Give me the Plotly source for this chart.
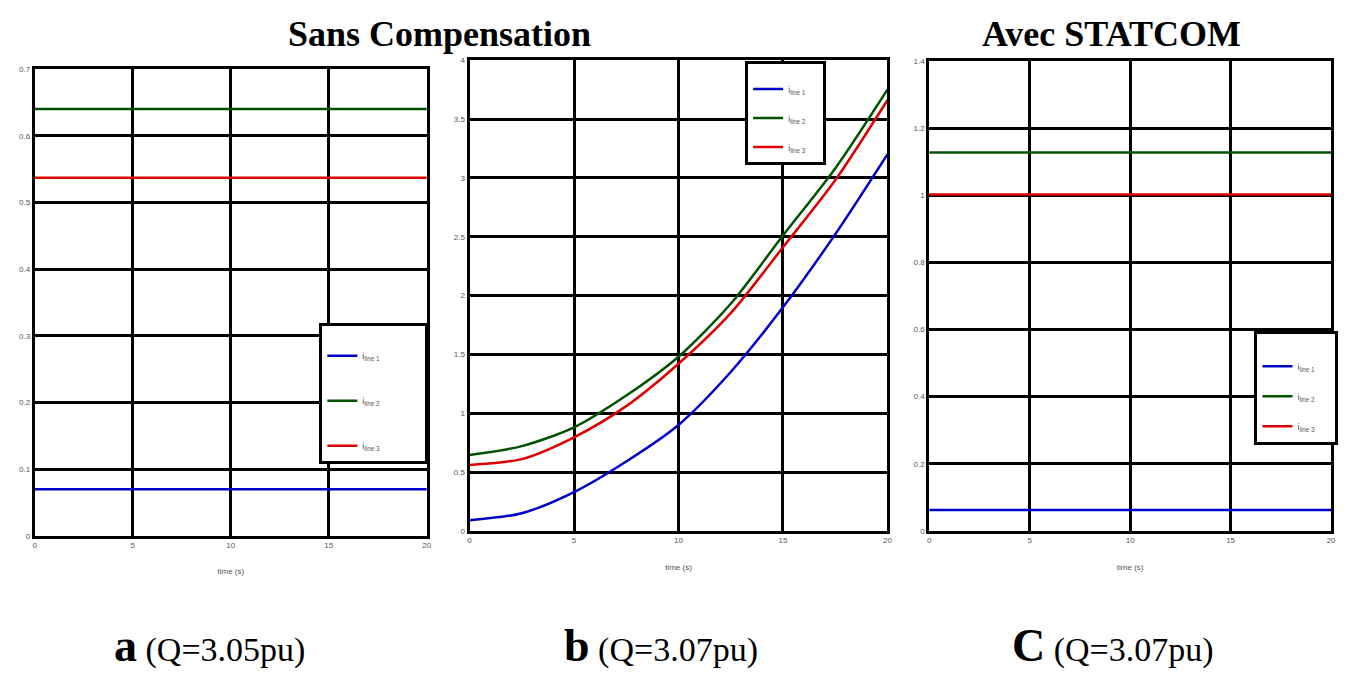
import plotly.graph_objects as go

# ---------------- data ----------------
time_flat = [0, 20]
a_line1 = [0.070, 0.070]
a_line2 = [0.640, 0.640]
a_line3 = [0.537, 0.537]

time_b = [0, 2.5, 5, 7.5, 10, 12.5, 15, 17.5, 20]
b_line1 = [0.09, 0.15, 0.33, 0.59, 0.90, 1.35, 1.90, 2.52, 3.20]
b_line2 = [0.645, 0.72, 0.88, 1.15, 1.48, 1.93, 2.51, 3.08, 3.75]
b_line3 = [0.56, 0.61, 0.795, 1.06, 1.42, 1.85, 2.41, 2.98, 3.66]

c_line1 = [0.062, 0.062]
c_line2 = [1.128, 1.128]
c_line3 = [1.003, 1.003]

series_names = ["i<sub>line 1</sub>", "i<sub>line 2</sub>", "i<sub>line 3</sub>"]
series_colors = ["#0000CC", "#005200", "#DD0000"]

x_ticks = [0, 5, 10, 15, 20]
titles = ["Sans Compensation", "Avec STATCOM"]
captions = [("a", "(Q=3.05pu)"), ("b", "(Q=3.07pu)"), ("C", "(Q=3.07pu)")]

# ---------------- layout geometry ----------------
W, H = 1354, 673
def px(x):
    return x / W
def py(y):
    return 1 - y / H

fig = go.Figure()

panels = [
    dict(t=time_flat, ys=[a_line1, a_line2, a_line3], xax="x", yax="y", leg="legend", shape="linear", pad=16),
    dict(t=time_b, ys=[b_line1, b_line2, b_line3], xax="x2", yax="y2", leg="legend2", shape="spline", pad=5),
    dict(t=time_flat, ys=[c_line1, c_line2, c_line3], xax="x3", yax="y3", leg="legend3", shape="linear", pad=6),
]
for p in panels:
    for name, col, yv in zip(series_names, series_colors, p["ys"]):
        fig.add_trace(go.Scatter(
            x=p["t"], y=yv, mode="lines", name=name + "&nbsp;" * p["pad"],
            line=dict(color=col, width=2.5, shape=p["shape"], smoothing=0.8),
            xaxis=p["xax"], yaxis=p["yax"], legend=p["leg"],
            legendgroup=p["leg"] + name,
        ))

tickfont = dict(family="Liberation Sans, Arial", size=8, color="#555")

def xaxis(dom, anchor):
    return dict(domain=dom, anchor=anchor, range=[0, 20], tickvals=x_ticks,
                showgrid=True, gridcolor="black", gridwidth=3,
                showline=True, linecolor="black", linewidth=3, mirror=True,
                zeroline=False, ticks="", tickfont=tickfont,
                title=dict(text="time (s)", font=dict(family="Liberation Sans, Arial", size=8, color="#555"), standoff=20))

def yaxis(dom, anchor, rng, dt):
    return dict(domain=dom, anchor=anchor, range=rng, dtick=dt, tick0=0,
                showgrid=True, gridcolor="black", gridwidth=3,
                showline=True, linecolor="black", linewidth=3, mirror=True,
                zeroline=False, ticks="", tickfont=tickfont)

def legend(x, y, gap, title_size):
    return dict(x=px(x), y=py(y), xanchor="left", yanchor="top",
                bgcolor="white", bordercolor="black", borderwidth=3,
                font=dict(family="Liberation Sans, Arial", size=9, color="#555"),
                title=dict(text="&nbsp;", font=dict(size=title_size)),
                tracegroupgap=gap)

fig.update_layout(
    width=W, height=H,
    margin=dict(l=0, r=0, t=0, b=0),
    paper_bgcolor="white", plot_bgcolor="white",
    xaxis=xaxis([px(33), px(427)], "y"),
    yaxis=yaxis([py(539), py(66)], "x", [0, 0.7], 0.1),
    xaxis2=xaxis([px(470), px(890)], "y2"),
    yaxis2=yaxis([py(534), py(57)], "x2", [0, 4], 0.5),
    xaxis3=xaxis([px(932), px(1336)], "y3"),
    yaxis3=yaxis([py(534), py(58)], "x3", [0, 1.4], 0.2),
    legend=legend(319, 323, 26, 12),
    legend2=legend(747, 58, 10, 8),
    legend3=legend(1259, 331, 11, 14),
    showlegend=True,
)

# titles
for t, cx in zip(titles, [440, 1115]):
    fig.add_annotation(text="<b>%s</b>" % t, x=px(cx), y=py(30), xref="paper", yref="paper",
                       xanchor="center", yanchor="middle", showarrow=False,
                       font=dict(family="Liberation Serif", size=36, color="black"))

# captions
cap_x = [209, 662, 1117]
for (letter, rest), cx in zip(captions, cap_x):
    fig.add_annotation(text="<span style='font-size:46px'><b>%s</b></span> %s" % (letter, rest),
                       x=px(cx), y=py(650), xref="paper", yref="paper", showarrow=False,
                       xanchor="center", yanchor="middle",
                       font=dict(family="Liberation Serif", size=34, color="black"))

fig.write_html("out.html")
